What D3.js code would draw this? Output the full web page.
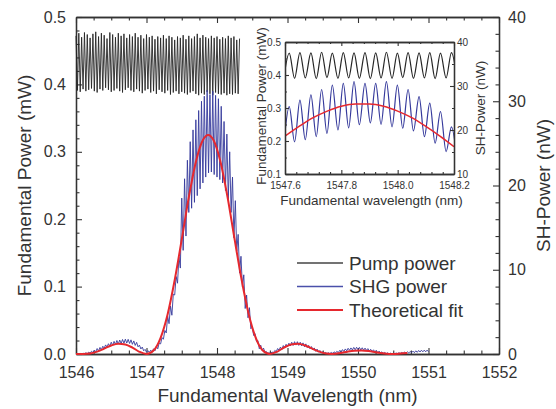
<!DOCTYPE html>
<html>
<head>
<meta charset="utf-8">
<script src="https://cdn.jsdelivr.net/npm/d3@7"></script>
<style>
  body { margin: 0; background: #fff; }
  svg { display: block; font-family: "Liberation Sans", Arial, sans-serif; }
</style>
</head>
<body>
<div id="chart"></div>
<script>
// ---- data ----
// pump power (mW), sampled every 0.02 nm from 1546.00 nm
const pumpStart = 1546.0, pumpStep = 0.02;
const pumpPower = [
  0.472, 0.391, 0.476, 0.389, 0.470, 0.393, 0.477, 0.390, 0.474, 0.392,
  0.469, 0.394, 0.475, 0.390, 0.478, 0.388, 0.471, 0.393, 0.476, 0.391,
  0.473, 0.395, 0.468, 0.392, 0.477, 0.389, 0.474, 0.391, 0.470, 0.394,
  0.476, 0.390, 0.472, 0.388, 0.475, 0.392, 0.469, 0.395, 0.474, 0.391,
  0.471, 0.389, 0.476, 0.393, 0.470, 0.390, 0.473, 0.387, 0.468, 0.391,
  0.474, 0.393, 0.470, 0.388, 0.472, 0.390, 0.467, 0.386, 0.471, 0.392,
  0.469, 0.389, 0.473, 0.387, 0.468, 0.391, 0.472, 0.385, 0.470, 0.388,
  0.466, 0.390, 0.471, 0.386, 0.469, 0.389, 0.473, 0.387, 0.467, 0.385,
  0.472, 0.388, 0.468, 0.390, 0.471, 0.386, 0.475, 0.384, 0.469, 0.387,
  0.473, 0.385, 0.470, 0.389, 0.468, 0.386, 0.472, 0.384, 0.469, 0.388,
  0.471, 0.386, 0.467, 0.385, 0.470, 0.387, 0.468, 0.384, 0.472, 0.386,
  0.469, 0.385, 0.471, 0.387, 0.466, 0.386, 0.468
];

// SHG power (nW), sampled every 0.02 nm from 1546.00 nm
const shgStart = 1546.0, shgStep = 0.02;
const shgPower = [
  0.00, 0.05, 0.00, 0.06, 0.00,   0.10, 0.02, 0.14, 0.05, 0.22,
  0.10, 0.32, 0.18, 0.45, 0.28,   0.65, 0.36, 0.78, 0.50, 0.92,
  0.70, 1.08, 0.82, 1.22, 0.95,   1.40, 1.02, 1.50, 1.12, 1.60,
  1.18, 1.66, 1.24, 1.72, 1.28,   1.76, 1.30, 1.74, 1.25, 1.68,
  1.15, 1.55, 1.02, 1.38, 0.85,   1.05, 0.60, 0.82, 0.38, 0.55,
  0.22, 0.40, 0.20, 0.45, 0.26,   0.62, 0.38, 0.90, 0.62, 1.30,
  1.20, 1.95, 1.75, 2.80, 2.50,   4.50, 3.60, 5.70, 4.60, 7.10,
  7.00, 9.20, 8.40, 11.5, 10.2,   18.5, 12.3, 20.8, 14.0, 23.0,
  16.8, 25.2, 17.3, 26.6, 18.0,   27.8, 18.8, 28.9, 19.6, 30.0,
  20.3, 30.6, 21.0, 31.3, 21.5,   30.8, 21.6, 31.2, 21.3, 30.7,
  21.0, 30.3, 20.7, 29.4, 20.3,   27.6, 19.4, 26.1, 18.4, 24.0,
  16.8, 21.0, 13.8, 18.2, 12.2,   14.2, 9.60, 11.6, 8.00, 9.40,
  5.40, 7.00, 4.30, 5.50, 3.00,   3.20, 2.20, 2.40, 1.50, 1.60,
  0.62, 1.05, 0.42, 0.70, 0.20,   0.30, 0.08, 0.14, 0.05, 0.25,
  0.12, 0.42, 0.28, 0.65, 0.45,   0.82, 0.55, 1.00, 0.70, 1.15,
  0.85, 1.28, 0.95, 1.40, 1.02,   1.46, 1.06, 1.46, 1.02, 1.40,
  0.96, 1.32, 0.86, 1.20, 0.76,   1.02, 0.62, 0.88, 0.48, 0.72,
  0.32, 0.58, 0.22, 0.42, 0.14,   0.26, 0.10, 0.18, 0.05, 0.15,
  0.05, 0.18, 0.08, 0.26, 0.12,   0.32, 0.16, 0.42, 0.24, 0.52,
  0.30, 0.60, 0.38, 0.68, 0.44,   0.72, 0.48, 0.78, 0.50, 0.80,
  0.50, 0.78, 0.48, 0.74, 0.45,   0.70, 0.42, 0.64, 0.36, 0.56,
  0.30, 0.50, 0.24, 0.42, 0.16,   0.34, 0.12, 0.26, 0.08, 0.18,
  0.04, 0.14, 0.02, 0.10, 0.00,   0.10, 0.02, 0.12, 0.04, 0.15,
  0.06, 0.18, 0.08, 0.22, 0.10,   0.26, 0.12, 0.30, 0.15, 0.34,
  0.16, 0.38, 0.20, 0.42, 0.24,   0.45, 0.26, 0.46, 0.26, 0.46,
  0.27
];

// theoretical fit (nW)
const fitWavelength = [1546.00, 1546.10, 1546.20, 1546.30, 1546.40, 1546.50, 1546.60, 1546.70, 1546.80, 1546.90,
  1547.00, 1547.10, 1547.20, 1547.30, 1547.40, 1547.50, 1547.60, 1547.70, 1547.80, 1547.875,
  1547.95, 1548.05, 1548.15, 1548.25, 1548.35, 1548.45, 1548.55, 1548.65,
  1548.75, 1548.85, 1548.95, 1549.05, 1549.15, 1549.25, 1549.35, 1549.45, 1549.55, 1549.625,
  1549.75, 1549.85, 1549.95, 1550.05, 1550.15, 1550.25, 1550.35, 1550.45, 1550.50, 1550.60, 1550.70];
const fitPower = [0.00, 0.00, 0.05, 0.28, 0.64, 1.01, 1.22, 1.13, 0.76, 0.26,
  0.00, 0.41, 1.92, 4.72, 8.78, 13.6, 18.6, 22.8, 25.4, 26.0,
  25.4, 22.8, 18.6, 13.6, 8.78, 4.72, 1.92, 0.41,
  0.00, 0.26, 0.76, 1.13, 1.22, 1.01, 0.64, 0.28, 0.05, 0.00,
  0.11, 0.28, 0.40, 0.43, 0.36, 0.22, 0.09, 0.01, 0.00, 0.05, 0.12];

// inset (zoom of the central lobe)
const insetWavelength = [1547.596, 1547.615, 1547.634, 1547.653, 1547.672, 1547.692, 1547.711, 1547.730,
  1547.749, 1547.768, 1547.788, 1547.807, 1547.826, 1547.845, 1547.864, 1547.884, 1547.903, 1547.922,
  1547.941, 1547.960, 1547.980, 1547.999, 1548.018, 1548.037, 1548.056, 1548.076, 1548.095, 1548.114,
  1548.133, 1548.152, 1548.172, 1548.191, 1548.210];
const insetPump = [0.392, 0.466, 0.390, 0.468, 0.391, 0.467, 0.389, 0.469, 0.392, 0.466, 0.390,
  0.468, 0.391, 0.467, 0.390, 0.468, 0.389, 0.467, 0.391, 0.469, 0.390, 0.466, 0.392, 0.468,
  0.390, 0.467, 0.391, 0.468, 0.389, 0.466, 0.391, 0.468, 0.392];
const insetShg = [17.0, 25.3, 17.3, 26.8, 17.8, 28.0, 18.5, 29.2, 19.2, 30.2, 20.0, 30.6, 20.5,
  31.0, 21.2, 30.6, 21.6, 30.6, 21.3, 31.0, 20.7, 30.2, 20.4, 29.2, 19.8, 27.6, 18.5, 26.1,
  17.0, 24.2, 15.1, 20.7, 13.6];
const insetFitWavelength = [1547.60, 1547.65, 1547.70, 1547.75, 1547.80, 1547.85, 1547.90,
  1547.95, 1548.00, 1548.05, 1548.10, 1548.15, 1548.20];
const insetFitPower = [18.6, 20.8, 22.8, 24.3, 25.4, 25.9, 25.9, 25.4, 24.3, 22.8, 20.8, 18.6, 16.2];

const xTicks = [1546, 1547, 1548, 1549, 1550, 1551, 1552];
const mwTicks = [0.0, 0.1, 0.2, 0.3, 0.4, 0.5];
const nwTicks = [0, 10, 20, 30, 40];
const insetXTicks = [1547.6, 1547.8, 1548.0, 1548.2];
const insetMwTicks = [0.1, 0.2, 0.3, 0.4, 0.5];
const insetNwTicks = [10, 20, 30, 40];
const legendLabels = ["Pump power", "SHG power", "Theoretical fit"];

// ---- drawing ----
const width = 556, height = 409;
const colPump = "#262626", colShg = "#363a9c", colFit = "#e6282e", colAxis = "#333";

const svg = d3.select("#chart").append("svg")
  .attr("width", width).attr("height", height)
  .style("background", "#fff");

const pl = 76, pr = 499, pt = 17, pb = 354;
const x = d3.scaleLinear().domain([1546, 1552]).range([pl, pr]);
const yL = d3.scaleLinear().domain([0, 0.5]).range([pb, pt]);
const yR = d3.scaleLinear().domain([0, 40]).range([pb, pt]);

const pumpData = pumpPower.map((v, i) => [pumpStart + i * pumpStep, v]);
const shgData = shgPower.map((v, i) => [shgStart + i * shgStep, v]);
const fitData = fitWavelength.map((w, i) => [w, fitPower[i]]);

function styleAxis(g, fs) {
  g.select(".domain").attr("stroke", colAxis).attr("stroke-width", 1.3);
  g.selectAll(".tick line").attr("stroke", colAxis).attr("stroke-width", 1.1);
  g.selectAll(".tick text").attr("fill", colAxis).style("font-size", fs + "px")
    .style("font-family", '"Liberation Sans", Arial, sans-serif');
}

function addAxes(root, xs, yl, yr, o) {
  const [x0, x1] = xs.range(), [y0, y1] = yl.range();
  // bottom
  root.append("g").attr("transform", `translate(0,${y0})`)
    .call(d3.axisBottom(xs).tickValues(o.xMinor).tickSizeInner(-o.minor).tickSizeOuter(0).tickFormat(""))
    .call(g => styleAxis(g, o.fs));
  root.append("g").attr("transform", `translate(0,${y0})`)
    .call(d3.axisBottom(xs).tickValues(o.xMajor).tickSizeInner(-o.major).tickSizeOuter(0)
      .tickPadding(o.padX).tickFormat(o.xFmt))
    .call(g => styleAxis(g, o.fs));
  // top
  root.append("g").attr("transform", `translate(0,${y1})`)
    .call(d3.axisTop(xs).tickValues(o.xMinor).tickSizeInner(-o.minor).tickSizeOuter(0).tickFormat(""))
    .call(g => styleAxis(g, o.fs));
  root.append("g").attr("transform", `translate(0,${y1})`)
    .call(d3.axisTop(xs).tickValues(o.xMajor).tickSizeInner(-o.major).tickSizeOuter(0).tickFormat(""))
    .call(g => styleAxis(g, o.fs));
  // left
  root.append("g").attr("transform", `translate(${x0},0)`)
    .call(d3.axisLeft(yl).tickValues(o.lMinor).tickSizeInner(-o.minor).tickSizeOuter(0).tickFormat(""))
    .call(g => styleAxis(g, o.fs));
  root.append("g").attr("transform", `translate(${x0},0)`)
    .call(d3.axisLeft(yl).tickValues(o.lMajor).tickSizeInner(-o.major).tickSizeOuter(0)
      .tickPadding(o.padL).tickFormat(d3.format(".1f")))
    .call(g => styleAxis(g, o.fs));
  // right
  root.append("g").attr("transform", `translate(${x1},0)`)
    .call(d3.axisRight(yr).tickValues(o.rMinor).tickSizeInner(-o.minor).tickSizeOuter(0).tickFormat(""))
    .call(g => styleAxis(g, o.fs));
  root.append("g").attr("transform", `translate(${x1},0)`)
    .call(d3.axisRight(yr).tickValues(o.rMajor).tickSizeInner(-o.major).tickSizeOuter(0)
      .tickPadding(o.padR).tickFormat(d3.format("d")))
    .call(g => styleAxis(g, o.fs));
}

const notIn = (arr) => v => !arr.some(a => Math.abs(a - v) < 1e-6);

// main axes
addAxes(svg, x, yL, yR, {
  fs: 16, major: 6, minor: 3.5, padX: 13, padL: 10, padR: 9,
  xMajor: xTicks, xFmt: d3.format("d"),
  xMinor: d3.range(0, 25).map(i => 1546 + i * 0.25).filter(notIn(xTicks)),
  lMajor: mwTicks, lMinor: d3.range(0, 26).map(i => i * 0.02).filter(notIn(mwTicks)),
  rMajor: nwTicks, rMinor: d3.range(0, 21).map(i => i * 2).filter(notIn(nwTicks))
});

// main series
const lineL = d3.line().x(d => x(d[0])).y(d => yL(d[1]));
const lineR = d3.line().x(d => x(d[0])).y(d => yR(d[1]));

svg.append("path").datum(pumpData).attr("d", lineL)
  .attr("fill", "none").attr("stroke", colPump).attr("stroke-width", 0.9);
svg.append("path").datum(shgData).attr("d", lineR)
  .attr("fill", "none").attr("stroke", colShg).attr("stroke-width", 0.9);
svg.append("path").datum(fitData).attr("d", lineR.curve(d3.curveMonotoneX))
  .attr("fill", "none").attr("stroke", colFit).attr("stroke-width", 2);

// main titles
svg.append("text").attr("x", x(1549)).attr("y", 402).attr("text-anchor", "middle")
  .attr("fill", colAxis).style("font-size", "19px").text("Fundamental Wavelength (nm)");
svg.append("text").attr("transform", `translate(31,${(pt + pb) / 2}) rotate(-90)`)
  .attr("text-anchor", "middle").attr("fill", colAxis).style("font-size", "19px")
  .text("Fundamental Power (mW)");
svg.append("text").attr("transform", `translate(550,${(pt + pb) / 2}) rotate(-90)`)
  .attr("text-anchor", "middle").attr("fill", colAxis).style("font-size", "19px")
  .text("SH-Power (nW)");

// legend
const legendColors = ["#444", "#4a50aa", colFit];
const legendWidths = [1.4, 1.4, 2];
const lg = svg.append("g");
legendLabels.forEach((t, i) => {
  const yy = 263 + i * 23.5;
  lg.append("line").attr("x1", 297).attr("x2", 343).attr("y1", yy).attr("y2", yy)
    .attr("stroke", legendColors[i]).attr("stroke-width", legendWidths[i]);
  lg.append("text").attr("x", 349).attr("y", yy).attr("dy", "0.35em")
    .attr("fill", colAxis).style("font-size", "19px").text(t);
});

// ---- inset ----
const il = 285, ir = 454, it = 42, ib = 174;
const ix = d3.scaleLinear().domain([1547.6, 1548.2]).range([il, ir]);
const iyL = d3.scaleLinear().domain([0.1, 0.5]).range([ib, it]);
const iyR = d3.scaleLinear().domain([10, 40]).range([ib, it]);

const inset = svg.append("g");
inset.append("rect").attr("x", il).attr("y", it).attr("width", ir - il).attr("height", ib - it)
  .attr("fill", "#fff");
svg.append("defs").append("clipPath").attr("id", "insetClip")
  .append("rect").attr("x", il).attr("y", it).attr("width", ir - il).attr("height", ib - it);

const series = inset.append("g").attr("clip-path", "url(#insetClip)");
series.append("path").datum(insetWavelength.map((w, i) => [w, insetPump[i]]))
  .attr("d", d3.line().x(d => ix(d[0])).y(d => iyL(d[1])).curve(d3.curveMonotoneX))
  .attr("fill", "none").attr("stroke", colPump).attr("stroke-width", 1.2);
series.append("path").datum(insetWavelength.map((w, i) => [w, insetShg[i]]))
  .attr("d", d3.line().x(d => ix(d[0])).y(d => iyR(d[1])).curve(d3.curveMonotoneX))
  .attr("fill", "none").attr("stroke", colShg).attr("stroke-width", 1.2);
series.append("path").datum(insetFitWavelength.map((w, i) => [w, insetFitPower[i]]))
  .attr("d", d3.line().x(d => ix(d[0])).y(d => iyR(d[1])).curve(d3.curveMonotoneX))
  .attr("fill", "none").attr("stroke", colFit).attr("stroke-width", 1.5);

addAxes(inset, ix, iyL, iyR, {
  fs: 10, major: 4, minor: 2, padX: 8, padL: 4, padR: 3,
  xMajor: insetXTicks, xFmt: d3.format(".1f"),
  xMinor: d3.range(0, 16).map(i => 1547.6 + i * 0.04).filter(notIn(insetXTicks)),
  lMajor: insetMwTicks, lMinor: d3.range(0, 9).map(i => 0.1 + i * 0.05).filter(notIn(insetMwTicks)),
  rMajor: insetNwTicks, rMinor: [15, 25, 35]
});

inset.append("text").attr("x", (il + ir) / 2 + 2).attr("y", 205).attr("text-anchor", "middle")
  .attr("fill", colAxis).style("font-size", "13.5px").text("Fundamental wavelength (nm)");
inset.append("text").attr("transform", `translate(266,${(it + ib) / 2 - 2}) rotate(-90)`)
  .attr("text-anchor", "middle").attr("fill", colAxis).style("font-size", "13.5px")
  .text("Fundamental Power (mW)");
inset.append("text").attr("transform", `translate(485,${(it + ib) / 2}) rotate(-90)`)
  .attr("text-anchor", "middle").attr("fill", colAxis).style("font-size", "13.5px")
  .text("SH-Power (nW)");
</script>
</body>
</html>
